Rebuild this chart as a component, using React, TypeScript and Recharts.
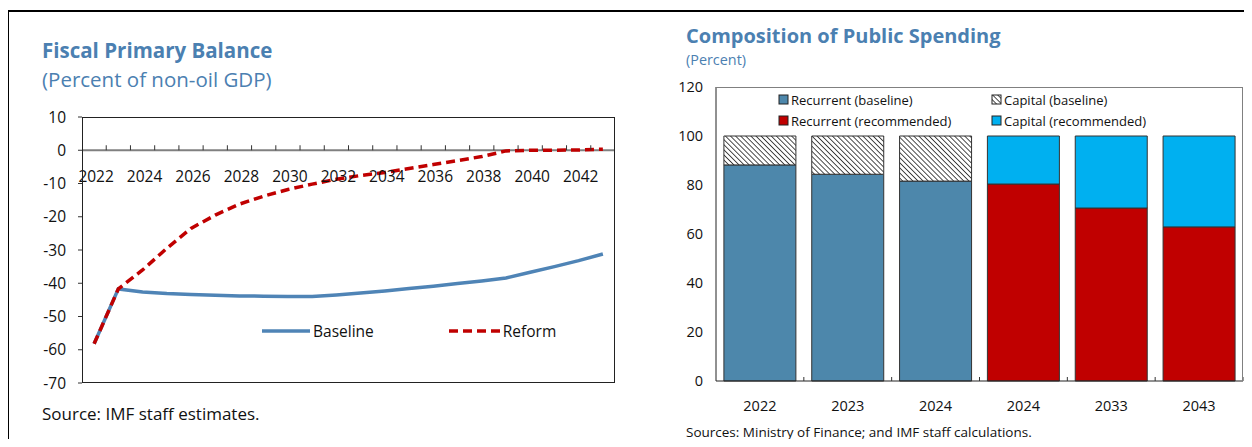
import {
  LineChart,
  Line,
  BarChart,
  Bar,
  XAxis,
  YAxis,
  ReferenceLine,
  Legend,
} from "recharts";

// Fiscal primary balance, percent of non-oil GDP
const years = [
  2022, 2023, 2024, 2025, 2026, 2027, 2028, 2029, 2030, 2031, 2032, 2033,
  2034, 2035, 2036, 2037, 2038, 2039, 2040, 2041, 2042, 2043,
];
const baseline = [
  -58.2, -41.7, -42.6, -43.1, -43.4, -43.6, -43.8, -43.9, -44.0, -44.0, -43.5,
  -42.9, -42.3, -41.6, -40.9, -40.1, -39.3, -38.4, -36.7, -35.0, -33.2, -31.2,
];
const reform = [
  -58.2, -41.7, -36.0, -29.5, -23.5, -19.5, -16.2, -13.8, -11.8, -10.2, -8.7,
  -7.6, -6.7, -5.5, -4.3, -3.1, -1.9, -0.2, 0, 0, 0.1, 0.3,
];
const balanceTicks = [10, 0, -10, -20, -30, -40, -50, -60, -70];

// Composition of public spending, percent
const spendingLabels = ["2022", "2023", "2024", "2024", "2033", "2043"];
const recurrentBaseline = [88.2, 84.4, 81.6, null, null, null];
const capitalBaseline = [11.8, 15.6, 18.4, null, null, null];
const recurrentRecommended = [null, null, null, 80.4, 70.6, 62.9];
const capitalRecommended = [null, null, null, 19.6, 29.4, 37.1];
const spendingTicks = [0, 20, 40, 60, 80, 100, 120];

const lineData = years.map((year, i) => ({
  year,
  Baseline: baseline[i],
  Reform: reform[i],
}));

const barData = spendingLabels.map((label, i) => ({
  label,
  recurrentBaseline: recurrentBaseline[i],
  capitalBaseline: capitalBaseline[i],
  recurrentRecommended: recurrentRecommended[i],
  capitalRecommended: capitalRecommended[i],
}));

const FONT = "'Open Sans', 'Noto Sans', sans-serif";
const TITLE = "#4b80b1";
const BLUE_LINE = "#4f84b6";
const RED = "#c00000";
const STEEL = "#4d87ab";
const CYAN = "#00b0f0";

// left plot box
const L_TOP = 117;
const L_BOTTOM = 383;
const L_LEFT = 82;
const L_RIGHT = 615;
const L_ZERO = L_TOP + ((L_BOTTOM - L_TOP) * 10) / 80;
const L_BAND = (L_RIGHT - L_LEFT) / years.length;

// right plot box (relative to its own chart)
const R_X = 660;
const R_TOP = 87;
const R_BOTTOM = 381;
const R_LEFT = 716 - R_X;
const R_RIGHT = 1243 - R_X;
const R_BAND = (R_RIGHT - R_LEFT) / spendingLabels.length;

const YearTick = (props: any) => {
  const { x, payload, index } = props;
  const right = x + L_BAND / 2;
  return (
    <g>
      {index < years.length - 1 && (
        <line x1={right} x2={right} y1={L_ZERO} y2={L_ZERO - 5} stroke="#333" />
      )}
      {index % 2 === 0 && (
        <text
          x={x + 2}
          y={L_ZERO + 32}
          textAnchor="middle"
          fontSize={15.5}
          fontFamily={FONT}
          fill="#111"
        >
          {payload.value}
        </text>
      )}
    </g>
  );
};

const SpendTick = (props: any) => {
  const { x, payload } = props;
  const right = x + R_BAND / 2;
  return (
    <g>
      <line x1={right} x2={right} y1={R_BOTTOM} y2={R_BOTTOM - 4} stroke="#333" />
      <text
        x={x}
        y={R_BOTTOM + 30}
        textAnchor="middle"
        fontSize={14.5}
        fontFamily={FONT}
        fill="#111"
      >
        {payload.value}
      </text>
    </g>
  );
};

const LineLegend = () => (
  <div
    style={{
      display: "flex",
      fontFamily: FONT,
      fontSize: 15.5,
      color: "#111",
      alignItems: "center",
    }}
  >
    <svg width={50} height={10}>
      <line x1={0} x2={48} y1={5} y2={5} stroke={BLUE_LINE} strokeWidth={3.5} />
    </svg>
    <span style={{ marginLeft: 1 }}>Baseline</span>
    <svg width={54} height={10} style={{ marginLeft: 75 }}>
      <line
        x1={0}
        x2={52}
        y1={5}
        y2={5}
        stroke={RED}
        strokeWidth={3.5}
        strokeDasharray="9 5"
      />
    </svg>
    <span>Reform</span>
  </div>
);

const legendItems = [
  { name: "Recurrent (baseline)", fill: STEEL },
  { name: "Capital (baseline)", fill: "url(#hatch)" },
  { name: "Recurrent (recommended)", fill: RED },
  { name: "Capital (recommended)", fill: CYAN },
];

const BarLegend = () => (
  <div
    style={{
      display: "grid",
      gridTemplateColumns: "213px 200px",
      rowGap: 3,
      fontFamily: FONT,
      fontSize: 13,
      color: "#111",
    }}
  >
    {legendItems.map((item) => (
      <div key={item.name} style={{ display: "flex", alignItems: "center" }}>
        <svg width={13} height={12}>
          <rect
            x={1}
            y={1}
            width={9}
            height={9}
            fill={item.fill}
            stroke="#222"
            strokeWidth={1}
          />
        </svg>
        <span>{item.name}</span>
      </div>
    ))}
  </div>
);

export default function App() {
  return (
    <div
      style={{
        position: "relative",
        width: 1252,
        height: 447,
        margin: -8,
        overflow: "hidden",
        background: "#fff",
        fontFamily: FONT,
      }}
    >
      <svg width={0} height={0} style={{ position: "absolute" }}>
        <defs>
          <pattern
            id="hatch"
            width={3.6}
            height={3.6}
            patternUnits="userSpaceOnUse"
            patternTransform="rotate(-45)"
          >
            <rect width={3.6} height={3.6} fill="#fff" />
            <line x1={0} y1={0} x2={0} y2={3.6} stroke="#111" strokeWidth={1.5} />
          </pattern>
        </defs>
      </svg>

      {/* outer frame */}
      <div
        style={{
          position: "absolute",
          left: 7,
          top: 10,
          width: 1260,
          height: 450,
          borderTop: "2px solid #000",
          borderLeft: "2px solid #000",
        }}
      />

      <div
        style={{
          position: "absolute",
          left: 42,
          top: 36,
          color: TITLE,
          fontWeight: 700,
          fontSize: 20.5,
        }}
      >
        Fiscal Primary Balance
      </div>
      <div
        style={{
          position: "absolute",
          left: 42,
          top: 65,
          color: TITLE,
          fontSize: 20.5,
        }}
      >
        (Percent of non-oil GDP)
      </div>
      <div
        style={{
          position: "absolute",
          left: 42,
          top: 402,
          fontSize: 17,
          color: "#111",
        }}
      >
        Source: IMF staff estimates.
      </div>

      <div style={{ position: "absolute", left: 0, top: 0 }}>
        <LineChart
          width={640}
          height={447}
          data={lineData}
          margin={{ top: L_TOP, bottom: 447 - L_BOTTOM - 1, left: L_LEFT - 40, right: 640 - L_RIGHT }}
        >
          <XAxis
            dataKey="year"
            height={1}
            interval={0}
            padding={{ left: L_BAND / 2, right: L_BAND / 2 }}
            axisLine={false}
            tickLine={false}
            tick={<YearTick />}
          />
          <YAxis
            width={40}
            domain={[-70, 10]}
            ticks={balanceTicks}
            interval={0}
            axisLine={false}
            tickSize={4}
            tickLine={{ stroke: "#333" }}
            tickMargin={12}
            tick={{ fontSize: 15.5, fill: "#111", fontFamily: FONT }}
          />
          <ReferenceLine y={0} stroke="#808080" strokeWidth={2} />
          <Legend
            layout="vertical"
            align="center"
            verticalAlign="middle"
            content={<LineLegend />}
            wrapperStyle={{ top: 320, left: 262, width: 320 }}
          />
          <Line
            dataKey="Baseline"
            stroke={BLUE_LINE}
            strokeWidth={3.5}
            dot={false}
            isAnimationActive={false}
          />
          <Line
            dataKey="Reform"
            stroke={RED}
            strokeWidth={3.5}
            strokeDasharray="9 5"
            dot={false}
            isAnimationActive={false}
          />
        </LineChart>
        <div
          style={{
            position: "absolute",
            left: L_LEFT,
            top: L_TOP,
            width: L_RIGHT - L_LEFT,
            height: L_BOTTOM - L_TOP,
            border: "1px solid #222",
            boxSizing: "border-box",
            pointerEvents: "none",
          }}
        />
      </div>

      <div
        style={{
          position: "absolute",
          left: 686,
          top: 22,
          color: TITLE,
          fontWeight: 700,
          fontSize: 20,
        }}
      >
        Composition of Public Spending
      </div>
      <div
        style={{
          position: "absolute",
          left: 686,
          top: 50,
          color: TITLE,
          fontSize: 14.4,
        }}
      >
        (Percent)
      </div>
      <div
        style={{
          position: "absolute",
          left: 686,
          top: 423,
          fontSize: 13.5,
          color: "#111",
        }}
      >
        Sources: Ministry of Finance; and IMF staff calculations.
      </div>

      <div style={{ position: "absolute", left: R_X, top: 0 }}>
        <BarChart
          width={592}
          height={447}
          data={barData}
          barCategoryGap="9%"
          margin={{ top: R_TOP, bottom: 447 - R_BOTTOM - 30, left: R_LEFT - 30, right: 592 - R_RIGHT }}
        >
          <XAxis
            dataKey="label"
            height={30}
            interval={0}
            axisLine={{ stroke: "#222" }}
            tickLine={false}
            tick={<SpendTick />}
          />
          <YAxis
            width={30}
            domain={[0, 120]}
            ticks={spendingTicks}
            interval={0}
            axisLine={{ stroke: "#222" }}
            tickLine={false}
            tickMargin={7}
            tick={{ fontSize: 14.5, fill: "#111", fontFamily: FONT }}
          />
          <Legend
            layout="vertical"
            align="center"
            verticalAlign="middle"
            content={<BarLegend />}
            wrapperStyle={{ top: 91, left: 118, width: 420 }}
          />
          <Bar
            dataKey="recurrentBaseline"
            stackId="a"
            fill={STEEL}
            stroke="#333"
            isAnimationActive={false}
          />
          <Bar
            dataKey="capitalBaseline"
            stackId="a"
            fill="url(#hatch)"
            stroke="#333"
            isAnimationActive={false}
          />
          <Bar
            dataKey="recurrentRecommended"
            stackId="a"
            fill={RED}
            stroke="#333"
            isAnimationActive={false}
          />
          <Bar
            dataKey="capitalRecommended"
            stackId="a"
            fill={CYAN}
            stroke="#333"
            isAnimationActive={false}
          />
        </BarChart>
        <div
          style={{
            position: "absolute",
            left: R_LEFT,
            top: R_TOP,
            width: R_RIGHT - R_LEFT,
            height: R_BOTTOM - R_TOP,
            border: "1px solid #808080",
            borderLeft: "none",
            borderBottom: "none",
            boxSizing: "border-box",
            pointerEvents: "none",
          }}
        />
      </div>
    </div>
  );
}
